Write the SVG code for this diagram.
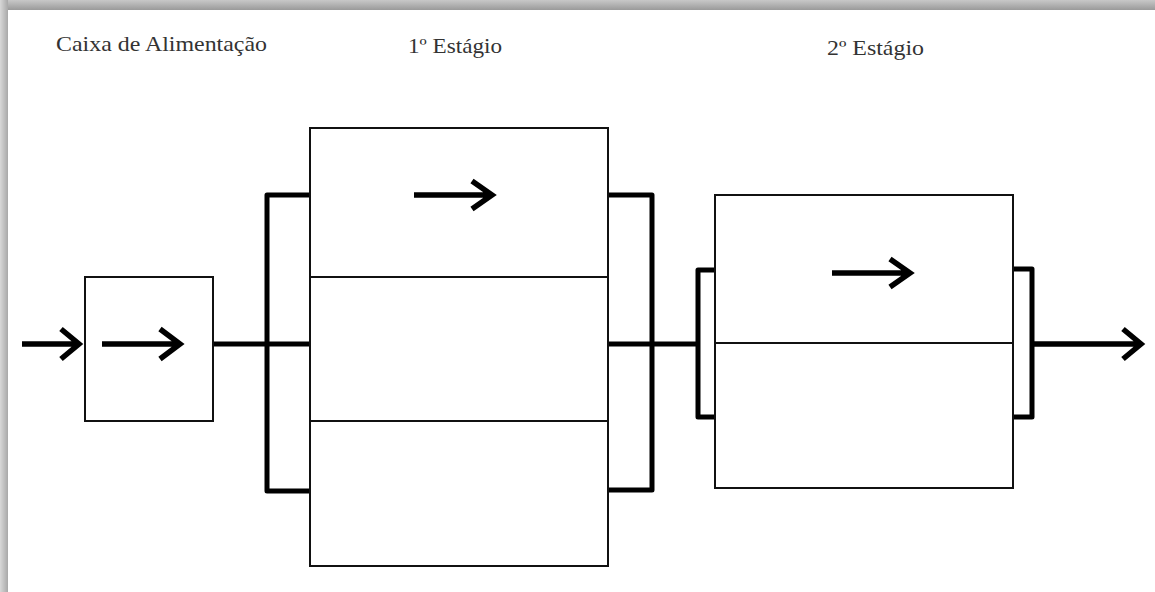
<svg xmlns="http://www.w3.org/2000/svg" width="1155" height="592" viewBox="0 0 1155 592">
<defs>
<linearGradient id="gTop" x1="0" y1="0" x2="0" y2="1">
<stop offset="0" stop-color="#c8c8c8"/><stop offset="1" stop-color="#9a9a9a"/>
</linearGradient>
<linearGradient id="gLeft" x1="0" y1="0" x2="1" y2="0">
<stop offset="0" stop-color="#d8d8d8"/><stop offset="1" stop-color="#a8a8a8"/>
</linearGradient>
<style>
.box{fill:#fff;stroke:#111;stroke-width:2}
.div{stroke:#111;stroke-width:2;fill:none}
.thick{stroke:#000;stroke-width:5;fill:none;stroke-linejoin:round}
.arrow{stroke:#000;stroke-width:5.5;fill:none;stroke-linejoin:miter;stroke-miterlimit:10}
.lbl{font-size:22px;fill:#333}
</style>
</defs>
<rect x="0" y="0" width="1155" height="592" fill="#fff"/>
<rect x="0" y="0" width="1155" height="10" fill="url(#gTop)"/>
<rect x="0" y="0" width="8" height="592" fill="url(#gLeft)"/>

<g id="labels" font-family="Liberation Serif, DejaVu Serif, serif">
<text class="lbl" x="56" y="51" textLength="211" lengthAdjust="spacingAndGlyphs">Caixa de Alimentação</text>
<text class="lbl" x="408" y="53" textLength="94" lengthAdjust="spacingAndGlyphs">1º Estágio</text>
<text class="lbl" x="827" y="55" textLength="97" lengthAdjust="spacingAndGlyphs">2º Estágio</text>
</g>

<g id="connectors">
<path class="arrow" d="M22,344 H79 M61,329 L79,344 L61,359"/>
<path class="thick" d="M213,344 H310"/>
<path class="thick" d="M310,195 H267 V491 H310"/>
<path class="thick" d="M608,195 H652 V490 H608"/>
<path class="thick" d="M608,344 H698"/>
<path class="thick" d="M715,270 H698 V417 H715"/>
<path class="thick" d="M1013,269 H1032 V417 H1013"/>
<path class="arrow" d="M1032,344 H1141 M1123,329 L1141,344 L1123,359"/>
</g>

<g id="caixa">
<rect class="box" x="85" y="277" width="128" height="144"/>
<path class="arrow" d="M102,344 H180 M160,329 L180,344 L160,359"/>
</g>

<g id="estagio1">
<rect class="box" x="310" y="128" width="298" height="438"/>
<line class="div" x1="310" y1="277" x2="608" y2="277"/>
<line class="div" x1="310" y1="421" x2="608" y2="421"/>
<path class="arrow" d="M414,195 H492 M472,181 L492,195 L472,209"/>
</g>

<g id="estagio2">
<rect class="box" x="715" y="195" width="298" height="293"/>
<line class="div" x1="715" y1="343" x2="1013" y2="343"/>
<path class="arrow" d="M832,273 H910 M890,259 L910,273 L890,287"/>
</g>
</svg>
